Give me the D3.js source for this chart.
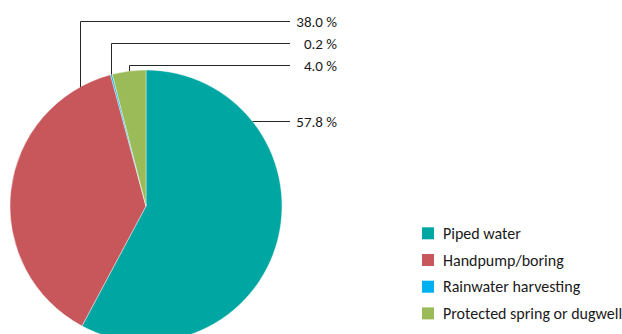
<!DOCTYPE html>
<html>
<head>
<meta charset="utf-8">
<script src="https://d3js.org/d3.v7.min.js"></script>
<style>
    body { margin: 0; background: #fff; }
    svg { display: block; }
</style>
</head>
<body>
<svg id="drawing_region"></svg>
<script>
const categories = ["Piped water", "Handpump/boring", "Rainwater harvesting", "Protected spring or dugwell"];
const values = [57.8, 38.0, 0.2, 4.0];
const colors = ["#00a6a2", "#c8575c", "#00b0f0", "#9bbb59"];

class PieChart {

    constructor( config, data ) {
        this.config = {
            parent: config.parent,
            width: config.width || 256,
            height: config.height || 256,
            cx: config.cx,
            cy: config.cy,
            radius: config.radius
        }
        this.data = data;
        this.init();
    }

    init() {
        let self = this;

        self.svg = d3.select( self.config.parent )
            .attr('width', self.config.width)
            .attr('height', self.config.height);

        self.chart = self.svg.append('g')
            .attr('transform', `translate(${self.config.cx}, ${self.config.cy})`);

        self.color = d3.scaleOrdinal()
            .domain( categories )
            .range( colors );

        self.pie = d3.pie()
            .sort(null)
            .value( d => d.value );

        self.arc = d3.arc()
            .innerRadius(0)
            .outerRadius(self.config.radius);
    }

    render() {
        let self = this;
        const arcs = self.pie( self.data );
        const r = self.config.radius;

        self.chart.selectAll("path.slice")
            .data(arcs)
            .enter()
            .append("path")
            .attr("class", "slice")
            .attr("d", self.arc)
            .attr("fill", d => self.color( d.data.name ))
            .attr("stroke", "#fff")
            .attr("stroke-width", 0.4);

        // leader lines: label row y and where the line meets the pie edge
        const labelY = [121.5, 21.5, 43.5, 65.5];
        const anchorDeg = [null, 330.8, null, null];
        const lineEnd = 290 - self.config.cx;
        const textEnd = 337 - self.config.cx;

        arcs.forEach( (d, i) => {
            const y = labelY[i] - self.config.cy;
            let a;
            if (i === 0) a = Math.acos( -y / r );
            else if (anchorDeg[i] !== null) a = anchorDeg[i] * Math.PI / 180;
            else a = (d.startAngle + d.endAngle) / 2;
            let ax = r * Math.sin(a);
            const ay = -r * Math.cos(a);
            if (i > 0) ax = Math.round(ax) + 0.5;

            self.chart.append("path")
                .attr("d", `M${ax},${ay}L${ax},${y}L${lineEnd},${y}`)
                .attr("fill", "none")
                .attr("stroke", "#262626")
                .attr("stroke-width", 1);

            self.chart.append("text")
                .attr("x", textEnd)
                .attr("y", y)
                .attr("dy", "0.35em")
                .attr("text-anchor", "end")
                .attr("font-size", "15px")
                .attr("fill", "#1a1a1a")
                .text( d.data.value.toFixed(1) + " %" );
        });

        const legend = self.svg.append("g")
            .attr("transform", "translate(422, 233.3)");

        const rows = legend.selectAll("g")
            .data(self.data)
            .enter()
            .append("g")
            .attr("transform", (d, i) => `translate(0, ${i * 26.7})`);

        rows.append("rect")
            .attr("x", 0)
            .attr("y", -6)
            .attr("width", 12)
            .attr("height", 12)
            .attr("fill", d => self.color( d.name ));

        rows.append("text")
            .attr("x", 21)
            .attr("y", 0)
            .attr("dy", "0.35em")
            .attr("font-size", "16px")
            .attr("fill", "#1a1a1a")
            .text( d => d.name );
    }
}

const data = categories.map( (c, i) => ({ name: c, value: values[i] }) );

var config = {
    parent: '#drawing_region',
    width: 622,
    height: 334,
    cx: 146,
    cy: 206,
    radius: 136
};

d3.select('body').style('font-family', 'Carlito, Calibri, Lato, sans-serif');
const pie_chart = new PieChart( config, data );
pie_chart.render();
</script>
</body>
</html>
